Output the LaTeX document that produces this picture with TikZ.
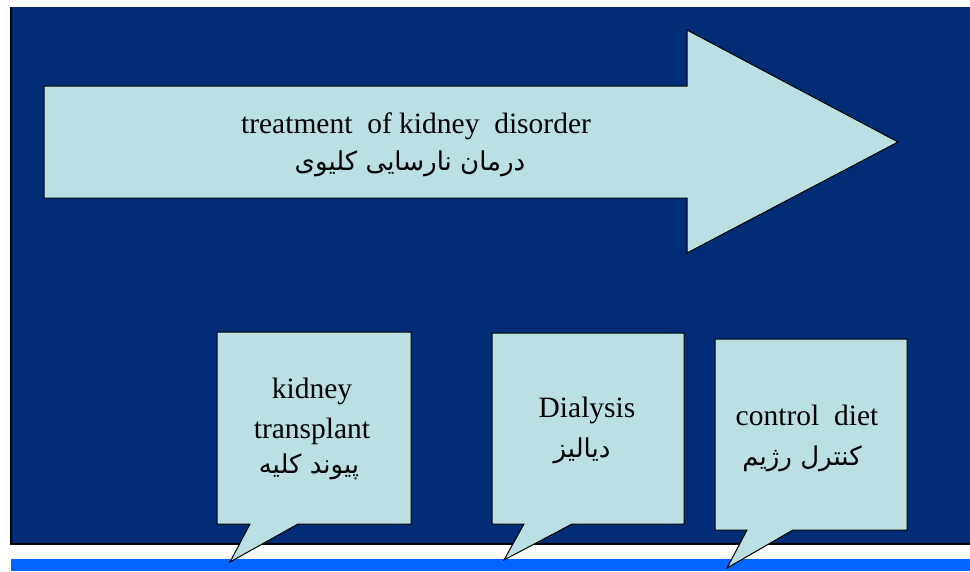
\documentclass[tikz,border=0pt]{standalone}
\usepackage{fontspec}
\setmainfont{Liberation Serif}
\newfontfamily\arabicfont[Script=Arabic]{DejaVu Sans}
\TeXXeTstate=1
\definecolor{navy}{RGB}{0,45,118}
\definecolor{paleblue}{RGB}{187,224,227}
\definecolor{stripblue}{RGB}{0,102,255}
\tikzset{
  panel/.style={fill=paleblue, draw=black, line width=1pt, line join=miter},
  en/.style={anchor=base, font=\fontsize{29.5}{34}\selectfont, inner sep=0pt},
  fa/.style={anchor=base, font=\arabicfont\fontsize{26}{30}\selectfont, inner sep=0pt}
}
\begin{document}
\begin{tikzpicture}[x=1pt,y=-1pt]
\useasboundingbox (0,0) rectangle (970,571);
\fill[white] (0,0) rectangle (970,571);
\fill[stripblue] (11,559) rectangle (970,571);
\fill[navy] (11,7) rectangle (970,544);
\draw[black, line width=1.5pt] (11,7) -- (11,544) -- (970,544);
% big arrow
\draw[panel] (44,86) -- (687,86) -- (687,30) -- (898,142) -- (687,253) -- (687,198) -- (44,198) -- cycle;
\node[en] (title) at (416,133) {treatment\ \ of kidney\ \ disorder};
\node[fa] (titlefa) at (410,170) {\beginR درمان نارسایی کلیوی\endR};
% callouts
\draw[panel] (217,332) -- (411,332) -- (411,524) -- (298,524) -- (230,562) -- (250,524) -- (217,524) -- cycle;
\draw[panel] (492,333) -- (684,333) -- (684,524) -- (572,524) -- (504,560) -- (524,524) -- (492,524) -- cycle;
\draw[panel] (715,339) -- (907,339) -- (907,530) -- (793,530) -- (727,568) -- (747,530) -- (715,530) -- cycle;
\node[en] (kt1) at (312,398) {kidney};
\node[en] (kt2) at (312,438) {transplant};
\node[fa] (ktfa) at (309,473) {\beginR پیوند کلیه\endR};
\node[en] (dial) at (587,417) {Dialysis};
\node[fa] (dialfa) at (582,457) {\beginR دیالیز\endR};
\node[en] (diet) at (807,425) {control\ \ diet};
\node[fa] (dietfa) at (802,465) {\beginR کنترل رژیم\endR};
\end{tikzpicture}
\end{document}
